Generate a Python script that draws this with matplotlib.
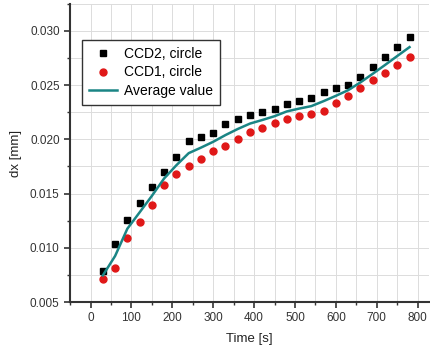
import matplotlib
matplotlib.use("Agg")
import matplotlib.pyplot as plt
from matplotlib.ticker import MultipleLocator

# data
time_s = [30, 60, 90, 120, 150, 180, 210, 240, 270, 300, 330, 360, 390, 420,
          450, 480, 510, 540, 570, 600, 630, 660, 690, 720, 750, 780]
ccd2 = [0.00782, 0.01034, 0.01261, 0.01412, 0.01562, 0.01697, 0.01841, 0.01988,
        0.02025, 0.02062, 0.0214, 0.02185, 0.02225, 0.0225, 0.02278, 0.02324,
        0.02354, 0.02379, 0.0244, 0.02471, 0.02504, 0.02575, 0.02664, 0.02756,
        0.02849, 0.0294]
ccd1 = [0.00708, 0.00813, 0.0109, 0.01242, 0.01396, 0.01583, 0.01682, 0.01758,
        0.01823, 0.01893, 0.0194, 0.02007, 0.02066, 0.02108, 0.02149, 0.02191,
        0.02213, 0.02234, 0.02265, 0.02333, 0.02403, 0.02477, 0.02545, 0.02615,
        0.02688, 0.02762]
average = [0.00745, 0.00924, 0.01176, 0.01327, 0.01479, 0.0164, 0.01762, 0.01873,
           0.01924, 0.01978, 0.0204, 0.02096, 0.02146, 0.02179, 0.02214, 0.02258,
           0.02284, 0.02307, 0.02353, 0.02402, 0.02454, 0.02526, 0.02605, 0.02686,
           0.02769, 0.02851]

plt.rcParams['font.family'] = ['Liberation Sans', 'DejaVu Sans']

fig = plt.figure(figsize=(4.3, 3.52), dpi=100)
ax = fig.add_axes([0.163, 0.142, 0.835, 0.847])

ax.plot(time_s, ccd2, 's', color='black', markersize=4.5, label='CCD2, circle', zorder=3)
ax.plot(time_s, ccd1, 'o', color='#e01818', markersize=5, label='CCD1, circle', zorder=3)
ax.plot(time_s, average, '-', color='#1a8585', linewidth=1.8, label='Average value', zorder=4)

ax.set_xlim(-50, 828)
ax.set_ylim(0.005, 0.0325)
ax.xaxis.set_major_locator(MultipleLocator(100))
ax.xaxis.set_minor_locator(MultipleLocator(50))
ax.yaxis.set_major_locator(MultipleLocator(0.005))
ax.yaxis.set_minor_locator(MultipleLocator(0.0025))
ax.yaxis.set_major_formatter(plt.FormatStrFormatter('%.3f'))

ax.grid(True, which='both', color='#dcdcdc', linewidth=0.7, zorder=0)
ax.set_axisbelow(True)

for s in ['top', 'right']:
    ax.spines[s].set_visible(False)
for s in ['left', 'bottom']:
    ax.spines[s].set_linewidth(1.5)
    ax.spines[s].set_color('#333333')

ax.tick_params(which='major', direction='out', length=4, width=1.2, color='#333333',
               labelsize=8.5, labelcolor='#333333')
ax.tick_params(which='minor', direction='out', length=2.5, width=1, color='#333333')

ax.set_xlabel('Time [s]', fontsize=9.5, color='#222222', labelpad=6)
ax.set_ylabel('dx [mm]', fontsize=9.5, color='#222222', labelpad=6)

leg = ax.legend(loc='upper left', bbox_to_anchor=(0.033, 0.88), fontsize=10,
                frameon=True, fancybox=False, edgecolor='#333333',
                handlelength=2.0, handletextpad=0.5, borderpad=0.5,
                labelspacing=0.35, borderaxespad=0)
leg.get_frame().set_linewidth(1.0)
leg.get_frame().set_alpha(1.0)

fig.savefig('out.png', dpi=100)
